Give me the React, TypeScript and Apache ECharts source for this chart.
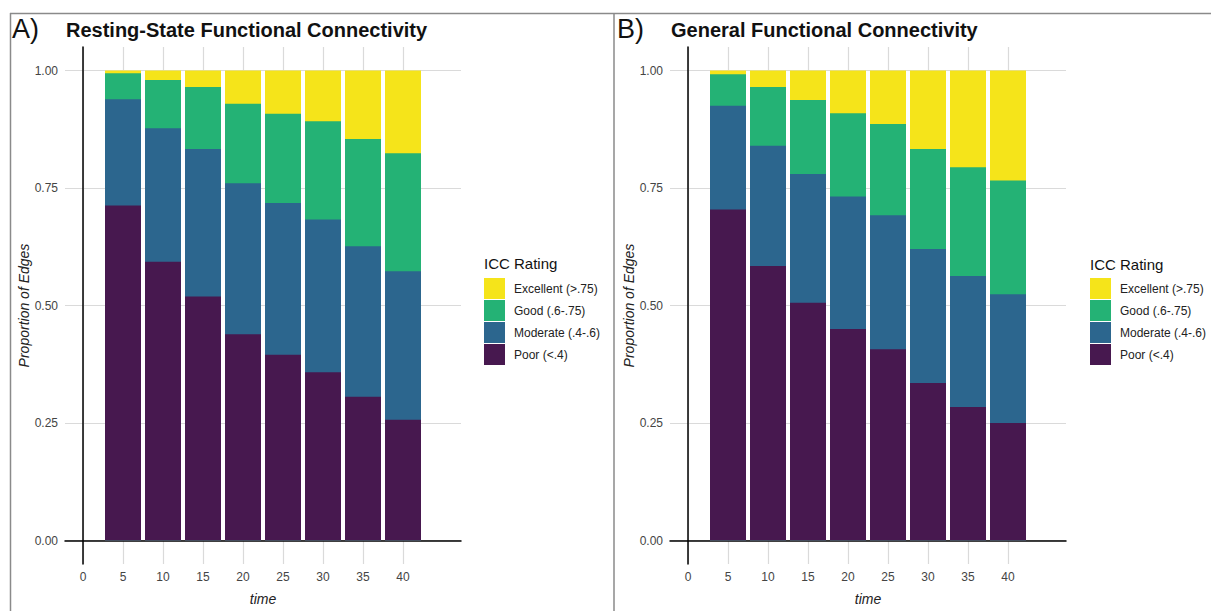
import React, { useEffect, useRef } from "react";
import * as echarts from "echarts";

const times = [5, 10, 15, 20, 25, 30, 35, 40];
const xTicks = [0, 5, 10, 15, 20, 25, 30, 35, 40];
const yTicks = [0, 0.25, 0.5, 0.75, 1.0];
const ratingNames = ["Poor (<.4)", "Moderate (.4-.6)", "Good (.6-.75)", "Excellent (>.75)"];
const legendOrder = ["Excellent (>.75)", "Good (.6-.75)", "Moderate (.4-.6)", "Poor (<.4)"];
const ratingColors = ["#47184f", "#2c668e", "#24b275", "#f5e41a"];

// Panel A: Resting-State Functional Connectivity (proportions per rating)
const restPoor = [0.713, 0.593, 0.519, 0.439, 0.395, 0.358, 0.306, 0.257];
const restModerate = [0.226, 0.284, 0.314, 0.321, 0.323, 0.325, 0.320, 0.316];
const restGood = [0.055, 0.103, 0.132, 0.169, 0.190, 0.209, 0.228, 0.251];
const restExcellent = [0.006, 0.020, 0.035, 0.071, 0.092, 0.108, 0.146, 0.176];

// Panel B: General Functional Connectivity
const genPoor = [0.704, 0.584, 0.506, 0.450, 0.407, 0.335, 0.284, 0.250];
const genModerate = [0.221, 0.256, 0.274, 0.282, 0.285, 0.285, 0.279, 0.274];
const genGood = [0.067, 0.125, 0.157, 0.177, 0.194, 0.213, 0.231, 0.242];
const genExcellent = [0.008, 0.035, 0.063, 0.091, 0.114, 0.167, 0.206, 0.234];

const titleA = "Resting-State Functional Connectivity";
const titleB = "General Functional Connectivity";
const legendTitle = "ICC Rating";

const FONT = "'Liberation Sans', Arial, Helvetica, sans-serif";

export default function App() {
  const ref = useRef<HTMLDivElement | null>(null);

  useEffect(() => {
    if (!ref.current) return;
    const chart = echarts.init(ref.current, null, { renderer: "svg" });

    const panels = [
      { left: 65, data: [restPoor, restModerate, restGood, restExcellent] },
      { left: 670, data: [genPoor, genModerate, genGood, genExcellent] },
    ];

    const grids = panels.map((p) => ({ left: p.left, top: 47, width: 396, height: 525 }));

    const xAxes = panels.map((p, i) => ({
      type: "value",
      gridIndex: i,
      min: -2.25,
      max: 47.25,
      name: "time",
      nameLocation: "middle",
      nameGap: 28,
      nameTextStyle: { fontFamily: FONT, fontStyle: "italic", fontSize: 14, color: "#222" },
      axisLine: { show: true, lineStyle: { color: "#000", width: 1.5 } },
      axisTick: { show: false, customValues: xTicks },
      axisLabel: {
        customValues: xTicks,
        margin: 7,
        fontFamily: FONT,
        fontSize: 12,
        color: "#444",
        formatter: (v: number) => String(v),
      },
      splitLine: { show: true, lineStyle: { color: "#dadada", width: 1.2 } },
    }));

    const yAxes = panels.map((p, i) => ({
      type: "value",
      gridIndex: i,
      min: -0.05,
      max: 1.05,
      name: "Proportion of Edges",
      nameLocation: "middle",
      nameGap: 32,
      nameTextStyle: { fontFamily: FONT, fontStyle: "italic", fontSize: 14, color: "#222" },
      axisLine: { show: true, lineStyle: { color: "#000", width: 1.5 } },
      axisTick: { show: false, customValues: yTicks },
      axisLabel: {
        customValues: yTicks,
        margin: 7,
        fontFamily: FONT,
        fontSize: 12,
        color: "#444",
        formatter: (v: number) => v.toFixed(2),
      },
      splitLine: { show: true, lineStyle: { color: "#dadada", width: 1.2 } },
    }));

    // Stacked bars: each rating bar spans from the bottom up to its cumulative top;
    // upper ratings are drawn first (behind), lower ratings in front.
    const series: any[] = [];
    panels.forEach((p, gi) => {
      const cumulative = p.data.map((_, si) =>
        times.map((_, k) => {
          let s = 0;
          for (let j = 0; j <= si; j++) s += p.data[j][k];
          return s;
        })
      );
      for (let si = p.data.length - 1; si >= 0; si--) {
        series.push({
          type: "bar",
          name: ratingNames[si],
          xAxisIndex: gi,
          yAxisIndex: gi,
          barWidth: 36,
          barGap: "-100%",
          z: 2 + (p.data.length - si),
          itemStyle: { color: ratingColors[si] },
          data: times.map((t, k) => [t, cumulative[si][k]]),
        });
      }
    });

    const legends = [484, 1090].map((x) => ({
      orient: "vertical",
      left: x,
      top: 278,
      padding: 0,
      itemWidth: 21,
      itemHeight: 21,
      itemGap: 1,
      icon: "rect",
      selectedMode: false,
      data: legendOrder,
      textStyle: { fontFamily: FONT, fontSize: 12, color: "#222", padding: [0, 0, 0, 4] },
    }));

    const graphics: any[] = [
      { type: "line", shape: { x1: 10, y1: 13.5, x2: 1211, y2: 13.5 }, style: { stroke: "#8a8a8a", lineWidth: 1.5 } },
      { type: "line", shape: { x1: 10.5, y1: 13, x2: 10.5, y2: 611 }, style: { stroke: "#8a8a8a", lineWidth: 1.5 } },
      { type: "line", shape: { x1: 614, y1: 13, x2: 614, y2: 611 }, style: { stroke: "#8a8a8a", lineWidth: 1.5 } },
      { type: "text", x: 12, y: 29, style: { text: "A)", font: `27px ${FONT}`, fill: "#111", verticalAlign: "middle" } },
      { type: "text", x: 66, y: 30, style: { text: titleA, font: `bold 20px ${FONT}`, fill: "#111", verticalAlign: "middle" } },
      { type: "text", x: 617, y: 29, style: { text: "B)", font: `27px ${FONT}`, fill: "#111", verticalAlign: "middle" } },
      { type: "text", x: 671, y: 30, style: { text: titleB, font: `bold 20px ${FONT}`, fill: "#111", verticalAlign: "middle" } },
      { type: "text", x: 484, y: 263, style: { text: legendTitle, font: `15px ${FONT}`, fill: "#111", verticalAlign: "middle" } },
      { type: "text", x: 1090, y: 264, style: { text: legendTitle, font: `15px ${FONT}`, fill: "#111", verticalAlign: "middle" } },
    ];

    chart.setOption({
      animation: false,
      backgroundColor: "#fff",
      grid: grids,
      xAxis: xAxes,
      yAxis: yAxes,
      legend: legends,
      series,
      graphic: graphics,
    });

    return () => chart.dispose();
  }, []);

  return (
    <div
      ref={ref}
      style={{ position: "absolute", left: 0, top: 0, width: 1211, height: 611, background: "#fff" }}
    />
  );
}
